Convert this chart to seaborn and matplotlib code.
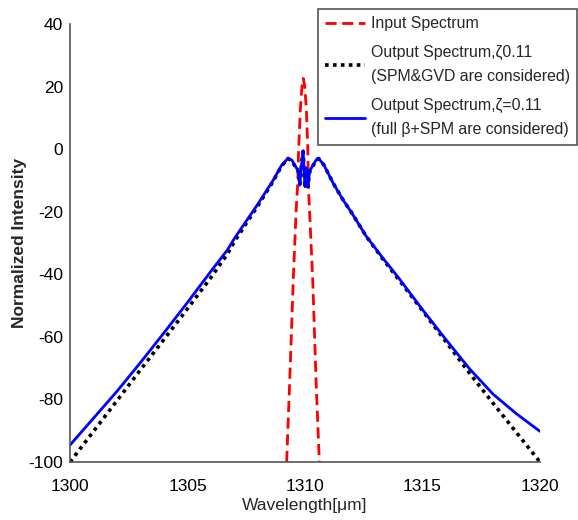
import numpy as np
import pandas as pd
import matplotlib
matplotlib.use("Agg")
import matplotlib.pyplot as plt
import seaborn as sns

# ---- data ----
input_wl = [1309.22, 1309.35, 1309.50, 1309.62, 1309.69, 1309.73, 1309.80, 1309.87,
            1309.93, 1309.99, 1310.06, 1310.12, 1310.14, 1310.33, 1310.47, 1310.61]
input_db = [-100.0, -74.0, -42.0, -20.0, -11.0, 0.0, 12.5, 20.0,
            22.6, 20.0, 12.5, 0.0, -11.0, -42.0, -74.0, -100.0]

out_gvd_wl = [1300.0, 1301.0, 1302.0, 1303.0, 1304.0, 1305.0, 1306.0, 1306.7, 1307.0,
              1308.0, 1308.65, 1309.0, 1309.28, 1309.45, 1309.6, 1309.72, 1309.78,
              1309.85, 1309.92, 1310.0, 1310.06, 1310.12, 1310.2, 1310.35, 1310.5,
              1310.58, 1310.8, 1311.2, 1311.6, 1312.0, 1312.6, 1313.3, 1314.0,
              1315.0, 1316.0, 1317.0, 1318.0, 1319.0, 1320.0]
out_gvd_db = [-100.0, -90.2, -80.4, -70.5, -60.8, -51.0, -41.0, -33.5, -29.5,
              -18.0, -10.2, -5.4, -3.0, -3.8, -5.8, -7.2, -11.5,
              -5.0, -0.8, -12.0, -6.0, -12.0, -7.2, -5.2, -3.4,
              -3.0, -5.0, -10.9, -16.0, -20.5, -27.8, -35.0, -41.8,
              -51.6, -61.6, -71.6, -81.2, -90.6, -100.0]

out_full_wl = [1300.0, 1301.0, 1302.0, 1303.0, 1304.0, 1305.0, 1306.0, 1306.7, 1307.0,
               1308.0, 1308.65, 1309.0, 1309.28, 1309.45, 1309.6, 1309.72, 1309.78,
               1309.85, 1309.92, 1310.0, 1310.06, 1310.12, 1310.2, 1310.35, 1310.5,
               1310.58, 1310.8, 1311.2, 1311.6, 1312.0, 1312.6, 1313.3, 1314.0,
               1315.0, 1316.0, 1317.0, 1318.0, 1319.0, 1320.0]
out_full_db = [-94.6, -86.0, -77.4, -68.2, -58.7, -49.0, -39.0, -32.2, -28.5,
               -17.5, -9.9, -5.2, -2.9, -3.6, -5.6, -7.0, -11.5,
               -5.0, -0.5, -12.0, -6.0, -12.0, -7.0, -5.0, -3.2,
               -3.0, -5.0, -10.9, -16.0, -20.5, -27.8, -34.7, -41.3,
               -51.3, -60.9, -70.2, -78.3, -84.6, -90.2]

labels = ["Input Spectrum",
          "Output Spectrum,\u03b60.11\n(SPM&GVD are considered)",
          "Output Spectrum,\u03b6=0.11\n(full \u03b2+SPM are considered)"]
x_ticks = [1300, 1305, 1310, 1315, 1320]
y_ticks = [40, 20, 0, -20, -40, -60, -80, -100]

sns.set_style("white")
plt.rcParams['font.family'] = ['Liberation Sans', 'DejaVu Sans']
plt.rcParams['axes.unicode_minus'] = False

fig = plt.figure(figsize=(5.78, 5.2), dpi=100)
ax = fig.add_axes([70/578, 58/520, 470/578, 438/520])

df_in = pd.DataFrame({"wl": input_wl, "db": input_db})
df_gvd = pd.DataFrame({"wl": out_gvd_wl, "db": out_gvd_db})
df_full = pd.DataFrame({"wl": out_full_wl, "db": out_full_db})

sns.lineplot(data=df_in, x="wl", y="db", ax=ax, color="#ff0000", lw=2.0,
             label=labels[0])
ax.lines[-1].set_linestyle((0, (4, 2)))
sns.lineplot(data=df_gvd, x="wl", y="db", ax=ax, color="black", lw=2.6,
             label=labels[1])
ax.lines[-1].set_linestyle((0, (1, 1.2)))
sns.lineplot(data=df_full, x="wl", y="db", ax=ax, color="#0000ff", lw=2.0,
             label=labels[2])

ax.set_xlim(1300, 1320)
ax.set_ylim(-100, 40)
ax.set_xticks(x_ticks)
ax.set_yticks(y_ticks)
ax.tick_params(direction="in", length=5, width=1, colors="#333333",
               labelsize=12.5, labelcolor="black")
ax.tick_params(axis="x", pad=12)
ax.tick_params(axis="y", pad=5)
for s in ["top", "right"]:
    ax.spines[s].set_visible(False)
for s in ["left", "bottom"]:
    ax.spines[s].set_color("#555555")
    ax.spines[s].set_linewidth(1.2)

ax.set_xlabel("Wavelength[\u03bcm]", fontsize=12.5, labelpad=3)
ax.set_ylabel("Normalized Intensity", fontsize=12.5, fontweight="bold")
ax.yaxis.set_label_coords(-0.092, 0.5)

leg = ax.legend(loc="upper right", bbox_to_anchor=(1.079, 1.034), borderaxespad=0,
                fontsize=11.4, frameon=True, fancybox=False, handlelength=2.5,
                handletextpad=0.4, labelspacing=0.85, borderpad=0.45)
for t in leg.get_texts():
    t.set_linespacing(1.8)
leg.get_frame().set_edgecolor("#555555")
leg.get_frame().set_linewidth(1.2)
leg.get_frame().set_alpha(1)

fig.savefig("out.png", dpi=100)
